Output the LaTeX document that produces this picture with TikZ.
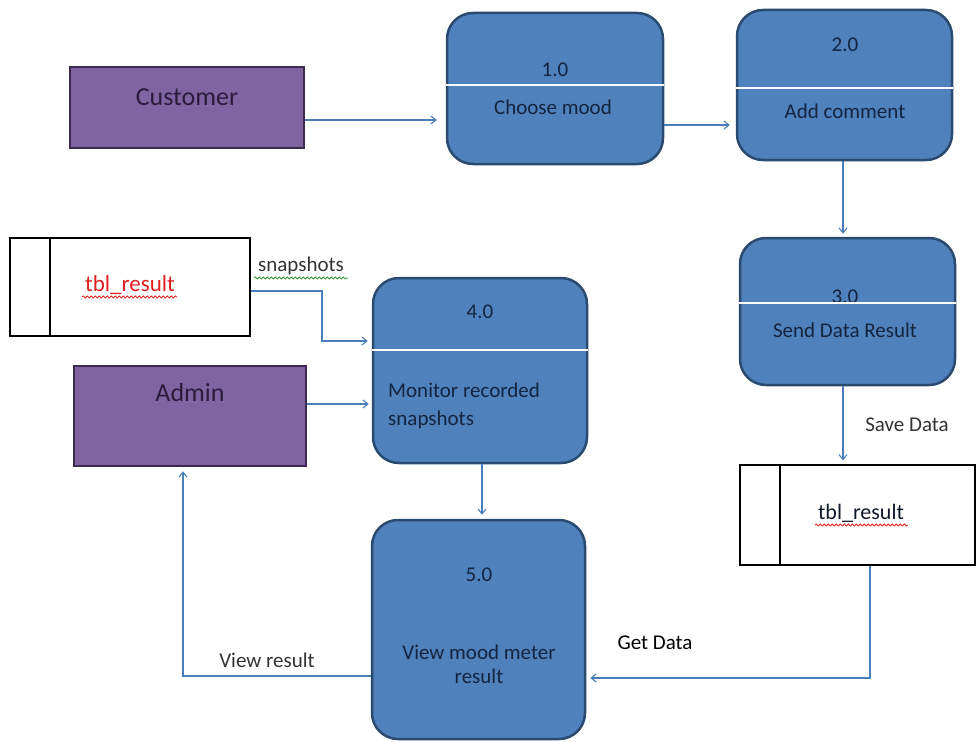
\documentclass[tikz,border=0pt]{standalone}
\usepackage{fontspec}
\setmainfont{Carlito}
\usetikzlibrary{arrows.meta,decorations.pathmorphing}
\definecolor{procfill}{HTML}{4F81BD}
\definecolor{procdraw}{HTML}{2A4A70}
\definecolor{extfill}{HTML}{8064A2}
\definecolor{extdraw}{HTML}{3B2C4E}
\definecolor{flow}{HTML}{4A7EBB}
\definecolor{proctext}{HTML}{14243F}
\definecolor{exttext}{HTML}{2B1B3D}
\definecolor{spellred}{HTML}{E02020}
\definecolor{spellgreen}{HTML}{3A9A3A}
\begin{document}
\begin{tikzpicture}[x=1pt,y=-1pt,
  proc/.style={draw=procdraw, line width=2.5pt, fill=procfill, rounded corners=26pt, inner sep=0pt},
  ext/.style={draw=extdraw, line width=2.5pt, fill=extfill, inner sep=0pt},
  store/.style={draw=black, line width=1.1pt, fill=white, inner sep=0pt},
  divider/.style={draw=white, line width=1.4pt},
  flowline/.style={draw=flow, line width=1.1pt, -{Straight Barb[length=5pt,width=8pt]}},
  ptxt/.style={text=proctext, font=\fontsize{21}{27}\selectfont, inner sep=0pt},
  etxt/.style={text=exttext, font=\fontsize{26}{30}\selectfont, inner sep=0pt},
  ltxt/.style={text=black, font=\fontsize{21}{26}\selectfont, inner sep=0pt},
  wavy/.style={line width=0.8pt, decorate, decoration={snake, amplitude=1.1pt, segment length=4pt}}
]
\useasboundingbox (0,0) rectangle (976,741);
\fill[white] (0,0) rectangle (976,741);

% external entities
\node[ext, minimum width=234pt, minimum height=81pt] (cust) at (187,107.5) {};
\node[etxt] (custt) at (187,97) {Customer};
\node[ext, minimum width=232pt, minimum height=100pt] (admin) at (190,416) {};
\node[etxt] (admint) at (190,393) {Admin};

% processes
\node[proc, minimum width=216pt, minimum height=151pt] (p1) at (555,88.5) {};
\draw[divider] (p1.west |- 0,85) -- (p1.east |- 0,85);
\node[ptxt] (p1n) at (555,70) {1.0};
\node[ptxt] (p1t) at (553,107) {Choose mood};

\node[proc, minimum width=215pt, minimum height=150pt] (p2) at (844.5,85) {};
\draw[divider] (p2.west |- 0,88) -- (p2.east |- 0,88);
\node[ptxt] (p2n) at (845,45) {2.0};
\node[ptxt] (p2t) at (845,111) {Add comment};

\node[proc, minimum width=215pt, minimum height=147pt] (p3) at (847.5,311.5) {};
\node[ptxt] (p3n) at (845,297) {3.0};
\draw[divider] (p3.west |- 0,303) -- (p3.east |- 0,303);
\node[ptxt] (p3t) at (845,330) {Send Data Result};

\node[proc, minimum width=214pt, minimum height=185pt] (p4) at (480,370.5) {};
\draw[divider] (p4.west |- 0,350) -- (p4.east |- 0,350);
\node[ptxt] (p4n) at (480,312) {4.0};
\node[ptxt, anchor=west] (p4t1) at (388,390) {Monitor recorded};
\node[ptxt, anchor=west] (p4t2) at (388,420) {snapshots};

\node[proc, minimum width=213pt, minimum height=219pt] (p5) at (478.5,629.5) {};
\node[ptxt] (p5n) at (479,575) {5.0};
\node[ptxt] (p5t1) at (479,652) {View mood meter};
\node[ptxt] (p5t2) at (479,676) {result};

% data stores
\node[store, minimum width=240pt, minimum height=98pt] (sl) at (130,287) {};
\draw[black, line width=1.1pt] (50,0 |- sl.north) -- (50,0 |- sl.south);
\node[ltxt, text=spellred, font=\fontsize{23}{27}\selectfont] (slt) at (130,285) {tbl\_result};
\draw[spellred, wavy] (82,297) -- (177,297);

\node[store, minimum width=235pt, minimum height=100pt] (sr) at (857.5,515) {};
\draw[black, line width=1.1pt] (780,0 |- sr.north) -- (780,0 |- sr.south);
\node[ltxt, text=proctext!70!black, font=\fontsize{22}{27}\selectfont] (srt) at (861,513) {tbl\_result};
\draw[spellred, wavy] (815,525) -- (908,525);

% flows
\draw[flowline, shorten >=9pt] (cust.east |- 0,120) -- (p1.west |- 0,120);
\draw[flowline, shorten >=6pt] (p1.east |- 0,125) -- (p2.west |- 0,125);
\draw[flowline, shorten >=3pt] (843,0 |- p2.south) -- (843,0 |- p3.north);
\draw[flowline, shorten >=4pt] (843,0 |- p3.south) -- (843,0 |- sr.north);
\draw[flowline, shorten >=4pt] (sl.east |- 0,291) -| (322,341) -- (p4.west |- 0,341);
\node[ltxt, text=black!80] (snap) at (301,266) {snapshots};
\draw[spellgreen, wavy] (254,278) -- (348,278);
\draw[flowline, shorten >=3pt] (admin.east |- 0,404) -- (p4.west |- 0,404);
\draw[flowline, shorten >=4pt] (482,0 |- p4.south) -- (482,0 |- p5.north);
\draw[flowline, shorten >=4pt] (870,0 |- sr.south) |- (p5.east |- 0,678);
\draw[flowline, shorten >=4pt] (p5.west |- 0,676) -| (183,0 |- admin.south);
\node[ltxt, text=black!80] (save) at (907,425) {Save Data};
\node[ltxt] (getd) at (655,643) {Get Data};
\node[ltxt, text=black!80] (viewr) at (267,660) {View result};
\end{tikzpicture}
\end{document}
